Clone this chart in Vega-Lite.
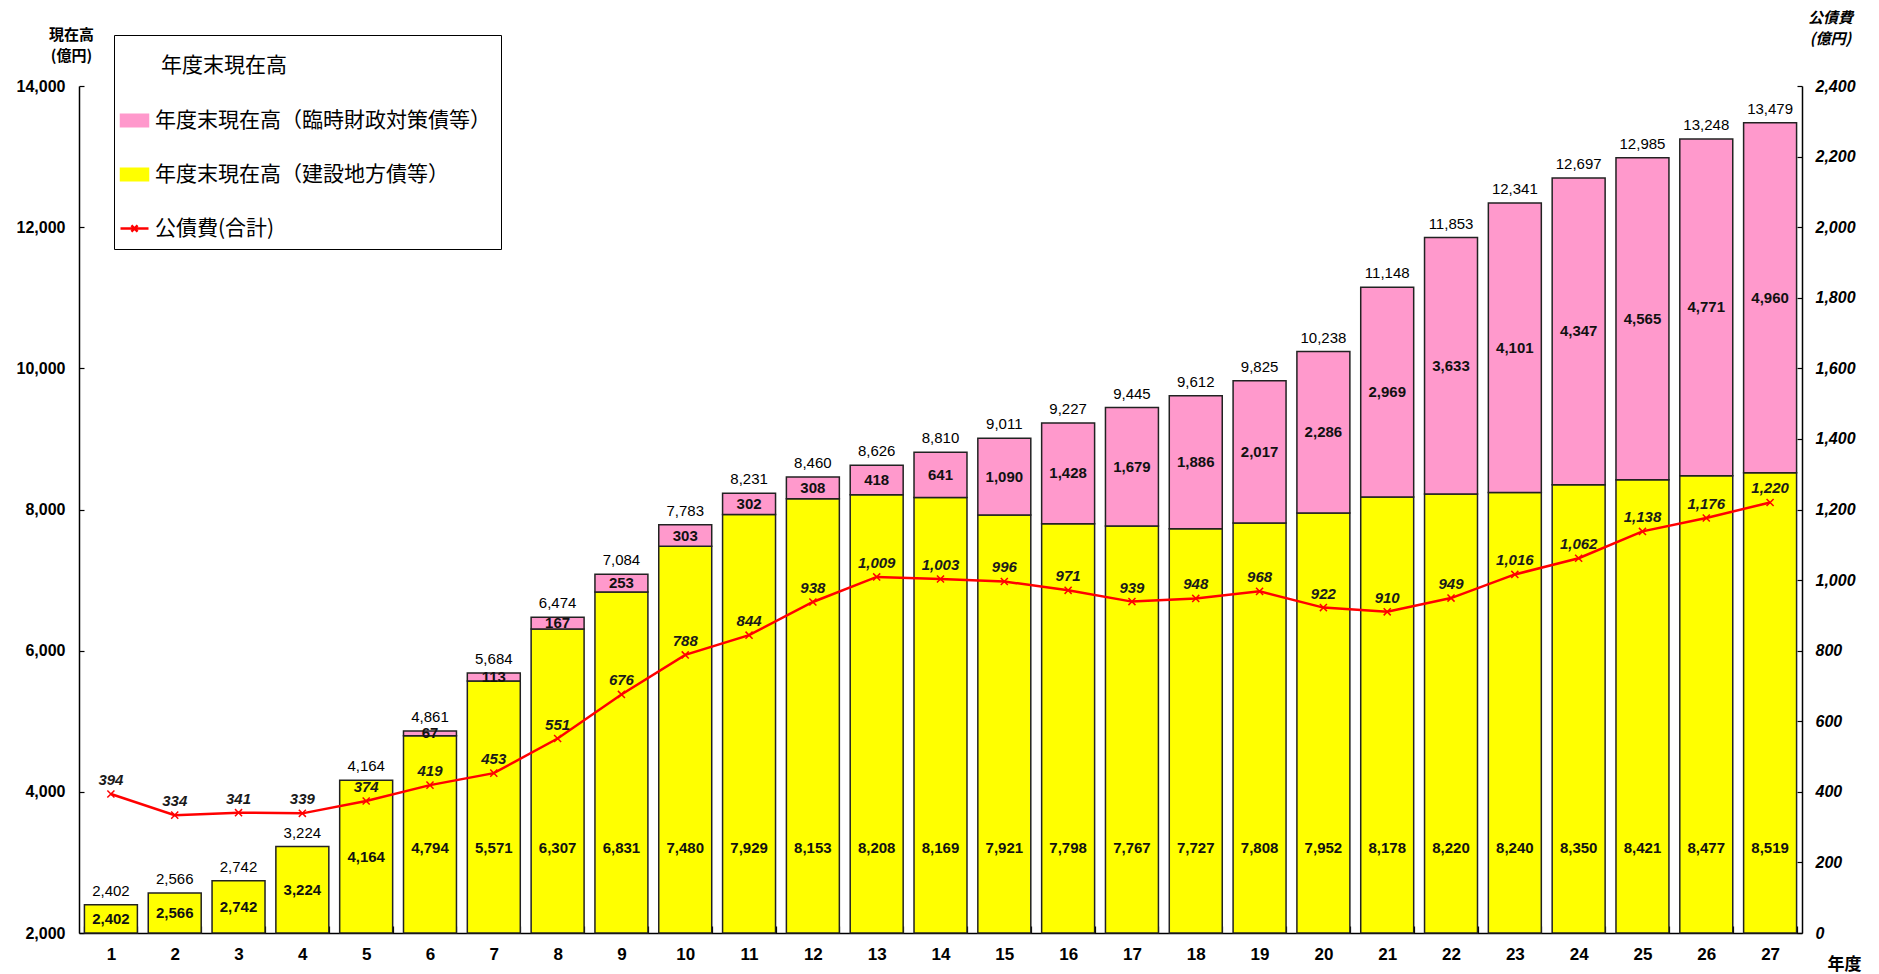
{
  "$schema": "https://vega.github.io/schema/vega-lite/v6.json",
  "width": 1723,
  "height": 847,
  "autosize": {"type": "none"},
  "padding": {"left": 79, "top": 86, "right": 77, "bottom": 41},
  "background": "white",
  "config": {
    "view": {"stroke": null},
    "axis": {"grid": false, "domainColor": "#000", "tickColor": "#000", "labelColor": "#000", "titleColor": "#000", "domainWidth": 1.5, "tickWidth": 1.2},
    "legend": {
      "orient": "none", "legendX": 35, "legendY": -51,
      "strokeColor": "#000", "fillColor": "#fff", "padding": 10,
      "rowPadding": 32, "titlePadding": 44, "symbolSize": 784, "labelOffset": 10,
      "labelFont": "Noto Sans CJK JP", "labelFontSize": 21, "labelColor": "#000", "labelLimit": 600,
      "titleFont": "Noto Sans CJK JP", "titleFontSize": 21, "titleFontWeight": "normal", "titleColor": "#000"
    }
  },
  "data": {
    "values": [
      {"year": 1, "con": 2402, "tmp": 0, "total": 2402, "kosai": 394},
      {"year": 2, "con": 2566, "tmp": 0, "total": 2566, "kosai": 334},
      {"year": 3, "con": 2742, "tmp": 0, "total": 2742, "kosai": 341},
      {"year": 4, "con": 3224, "tmp": 0, "total": 3224, "kosai": 339},
      {"year": 5, "con": 4164, "tmp": 0, "total": 4164, "kosai": 374},
      {"year": 6, "con": 4794, "tmp": 67, "total": 4861, "kosai": 419},
      {"year": 7, "con": 5571, "tmp": 113, "total": 5684, "kosai": 453},
      {"year": 8, "con": 6307, "tmp": 167, "total": 6474, "kosai": 551},
      {"year": 9, "con": 6831, "tmp": 253, "total": 7084, "kosai": 676},
      {"year": 10, "con": 7480, "tmp": 303, "total": 7783, "kosai": 788},
      {"year": 11, "con": 7929, "tmp": 302, "total": 8231, "kosai": 844},
      {"year": 12, "con": 8153, "tmp": 308, "total": 8460, "kosai": 938},
      {"year": 13, "con": 8208, "tmp": 418, "total": 8626, "kosai": 1009},
      {"year": 14, "con": 8169, "tmp": 641, "total": 8810, "kosai": 1003},
      {"year": 15, "con": 7921, "tmp": 1090, "total": 9011, "kosai": 996},
      {"year": 16, "con": 7798, "tmp": 1428, "total": 9227, "kosai": 971},
      {"year": 17, "con": 7767, "tmp": 1679, "total": 9445, "kosai": 939},
      {"year": 18, "con": 7727, "tmp": 1886, "total": 9612, "kosai": 948},
      {"year": 19, "con": 7808, "tmp": 2017, "total": 9825, "kosai": 968},
      {"year": 20, "con": 7952, "tmp": 2286, "total": 10238, "kosai": 922},
      {"year": 21, "con": 8178, "tmp": 2969, "total": 11148, "kosai": 910},
      {"year": 22, "con": 8220, "tmp": 3633, "total": 11853, "kosai": 949},
      {"year": 23, "con": 8240, "tmp": 4101, "total": 12341, "kosai": 1016},
      {"year": 24, "con": 8350, "tmp": 4347, "total": 12697, "kosai": 1062},
      {"year": 25, "con": 8421, "tmp": 4565, "total": 12985, "kosai": 1138},
      {"year": 26, "con": 8477, "tmp": 4771, "total": 13248, "kosai": 1176},
      {"year": 27, "con": 8519, "tmp": 4960, "total": 13479, "kosai": 1220}
    ]
  },
  "resolve": {"scale": {"y": "independent"}},
  "layer": [
    {
      "encoding": {
        "x": {"field": "year", "type": "ordinal", "scale": {"paddingInner": 0.17, "paddingOuter": 0.085},
          "axis": {"orient": "bottom", "tickBand": "extent", "tickSize": -7, "labelPadding": 20, "labelAngle": 0,
            "labelFont": "Liberation Sans", "labelFontSize": 17, "labelFontWeight": "bold",
            "title": "年度", "titleX": 1765, "titleY": 31, "titleAlign": "center", "titleBaseline": "middle", "titleAngle": 0,
            "titleFont": "Noto Sans CJK JP", "titleFontSize": 17, "titleFontWeight": "bold"}}
      },
      "layer": [
        {
          "mark": {"type": "bar", "stroke": "#222", "strokeWidth": 1.5},
          "encoding": {
            "y": {"field": "con", "type": "quantitative", "scale": {"domain": [2000, 14000], "nice": false, "zero": false},
              "axis": {"orient": "left", "values": [2000, 4000, 6000, 8000, 10000, 12000, 14000], "format": ",d", "tickSize": -5, "labelPadding": 19,
                "labelFont": "Liberation Sans", "labelFontSize": 16, "labelFontWeight": "bold",
                "title": ["現在高", "(億円)"], "titleAngle": 0, "titleX": -8, "titleY": -59, "titleAlign": "center", "titleBaseline": "top",
                "titleFont": "Noto Sans CJK JP", "titleFontSize": 15, "titleFontWeight": "bold", "titleLineHeight": 21}},
            "y2": {"datum": 2000},
            "color": {"datum": "年度末現在高（建設地方債等）", "type": "nominal",
              "scale": {"domain": ["年度末現在高（臨時財政対策債等）", "年度末現在高（建設地方債等）", "公債費(合計)"], "range": ["#FF99CC", "#FFFF00", "#FF0000"]},
              "legend": {"title": "年度末現在高",
                "encode": {
                  "symbols": {"update": {
                    "shape": {"signal": "datum.value === '公債費(合計)' ? 'M-1,0H1M-0.22,-0.22L0.22,0.22M-0.22,0.22L0.22,-0.22' : 'M-1,-0.45H1V0.45H-1Z'"},
                    "fill": {"signal": "datum.value === '公債費(合計)' ? 'transparent' : scale('color', datum.value)"},
                    "stroke": {"signal": "datum.value === '公債費(合計)' ? '#FF0000' : '#222222'"},
                    "strokeWidth": {"signal": "datum.value === '公債費(合計)' ? 2.5 : 1.5"},
                    "opacity": {"value": 1}, "fillOpacity": {"value": 1}, "strokeOpacity": {"value": 1}
                  }},
                  "title": {"update": {"dx": {"value": 37}, "dy": {"value": 10}}}
                }}}
          }
        },
        {
          "transform": [{"filter": "datum.tmp > 0"}],
          "mark": {"type": "bar", "stroke": "#222", "strokeWidth": 1.5},
          "encoding": {
            "y": {"field": "total", "type": "quantitative", "scale": {"domain": [2000, 14000], "nice": false, "zero": false},
              "axis": {"orient": "left", "values": [2000, 4000, 6000, 8000, 10000, 12000, 14000], "format": ",d", "tickSize": -5, "labelPadding": 19,
                "labelFont": "Liberation Sans", "labelFontSize": 16, "labelFontWeight": "bold",
                "title": ["現在高", "(億円)"], "titleAngle": 0, "titleX": -8, "titleY": -59, "titleAlign": "center", "titleBaseline": "top",
                "titleFont": "Noto Sans CJK JP", "titleFontSize": 15, "titleFontWeight": "bold", "titleLineHeight": 21}},
            "y2": {"field": "con"},
            "color": {"datum": "年度末現在高（臨時財政対策債等）", "type": "nominal",
              "scale": {"domain": ["年度末現在高（臨時財政対策債等）", "年度末現在高（建設地方債等）", "公債費(合計)"], "range": ["#FF99CC", "#FFFF00", "#FF0000"]},
              "legend": {"title": "年度末現在高",
                "encode": {
                  "symbols": {"update": {
                    "shape": {"signal": "datum.value === '公債費(合計)' ? 'M-1,0H1M-0.22,-0.22L0.22,0.22M-0.22,0.22L0.22,-0.22' : 'M-1,-0.45H1V0.45H-1Z'"},
                    "fill": {"signal": "datum.value === '公債費(合計)' ? 'transparent' : scale('color', datum.value)"},
                    "stroke": {"signal": "datum.value === '公債費(合計)' ? '#FF0000' : '#222222'"},
                    "strokeWidth": {"signal": "datum.value === '公債費(合計)' ? 2.5 : 1.5"},
                    "opacity": {"value": 1}, "fillOpacity": {"value": 1}, "strokeOpacity": {"value": 1}
                  }},
                  "title": {"update": {"dx": {"value": 37}, "dy": {"value": 10}}}
                }}}
          }
        },
        {
          "mark": {"type": "text", "baseline": "alphabetic", "dy": -9, "font": "Liberation Sans", "fontSize": 15, "color": "#000"},
          "encoding": {
            "y": {"field": "total", "type": "quantitative", "scale": {"domain": [2000, 14000], "nice": false, "zero": false}},
            "text": {"field": "total", "type": "quantitative", "format": ","}
          }
        },
        {
          "transform": [{"calculate": "min((datum.con + 2000) / 2, 3200)", "as": "labY"}],
          "mark": {"type": "text", "baseline": "middle", "font": "Liberation Sans", "fontSize": 15, "fontWeight": "bold", "color": "#111"},
          "encoding": {
            "y": {"field": "labY", "type": "quantitative", "scale": {"domain": [2000, 14000], "nice": false, "zero": false}},
            "text": {"field": "con", "type": "quantitative", "format": ","}
          }
        },
        {
          "transform": [{"filter": "datum.tmp > 0"}, {"calculate": "(datum.con + datum.total) / 2", "as": "midY"}],
          "mark": {"type": "text", "baseline": "middle", "font": "Liberation Sans", "fontSize": 15, "fontWeight": "bold", "color": "#111"},
          "encoding": {
            "y": {"field": "midY", "type": "quantitative", "scale": {"domain": [2000, 14000], "nice": false, "zero": false}},
            "text": {"field": "tmp", "type": "quantitative", "format": ","}
          }
        }
      ]
    },
    {
      "encoding": {
        "x": {"field": "year", "type": "ordinal", "scale": {"paddingInner": 0.17, "paddingOuter": 0.085},
          "axis": {"orient": "bottom", "tickBand": "extent", "tickSize": -7, "labelPadding": 20, "labelAngle": 0,
            "labelFont": "Liberation Sans", "labelFontSize": 17, "labelFontWeight": "bold",
            "title": "年度", "titleX": 1765, "titleY": 31, "titleAlign": "center", "titleBaseline": "middle", "titleAngle": 0,
            "titleFont": "Noto Sans CJK JP", "titleFontSize": 17, "titleFontWeight": "bold"}},
        "y": {"field": "kosai", "type": "quantitative", "scale": {"domain": [0, 2400], "nice": false, "zero": true},
          "axis": {"orient": "right", "values": [0, 200, 400, 600, 800, 1000, 1200, 1400, 1600, 1800, 2000, 2200, 2400], "format": ",d", "tickSize": -5, "labelPadding": 18,
            "labelFont": "Liberation Sans", "labelFontSize": 16, "labelFontWeight": "bold", "labelFontStyle": "italic",
            "title": ["公債費", "(億円)"], "titleAngle": 0, "titleX": 28, "titleY": -76, "titleAlign": "center", "titleBaseline": "top",
            "titleFont": "Noto Sans CJK JP", "titleFontSize": 15, "titleFontWeight": "bold", "titleFontStyle": "italic", "titleLineHeight": 21}}
      },
      "layer": [
        {
          "mark": {"type": "line", "strokeWidth": 2.5},
          "encoding": {"color": {"datum": "公債費(合計)", "type": "nominal",
              "scale": {"domain": ["年度末現在高（臨時財政対策債等）", "年度末現在高（建設地方債等）", "公債費(合計)"], "range": ["#FF99CC", "#FFFF00", "#FF0000"]},
              "legend": {"title": "年度末現在高",
                "encode": {
                  "symbols": {"update": {
                    "shape": {"signal": "datum.value === '公債費(合計)' ? 'M-1,0H1M-0.22,-0.22L0.22,0.22M-0.22,0.22L0.22,-0.22' : 'M-1,-0.45H1V0.45H-1Z'"},
                    "fill": {"signal": "datum.value === '公債費(合計)' ? 'transparent' : scale('color', datum.value)"},
                    "stroke": {"signal": "datum.value === '公債費(合計)' ? '#FF0000' : '#222222'"},
                    "strokeWidth": {"signal": "datum.value === '公債費(合計)' ? 2.5 : 1.5"},
                    "opacity": {"value": 1}, "fillOpacity": {"value": 1}, "strokeOpacity": {"value": 1}
                  }},
                  "title": {"update": {"dx": {"value": 37}, "dy": {"value": 10}}}
                }}}}
        },
        {
          "mark": {"type": "point", "shape": "M-1,-1L1,1M-1,1L1,-1", "size": 50, "filled": false, "stroke": "#FF0000", "strokeWidth": 1.5, "opacity": 1}
        },
        {
          "mark": {"type": "text", "baseline": "alphabetic", "dy": -9, "font": "Liberation Sans", "fontSize": 15, "fontWeight": "bold", "fontStyle": "italic", "color": "#1a1a1a"},
          "encoding": {"text": {"field": "kosai", "type": "quantitative", "format": ","}}
        }
      ]
    }
  ]
}
